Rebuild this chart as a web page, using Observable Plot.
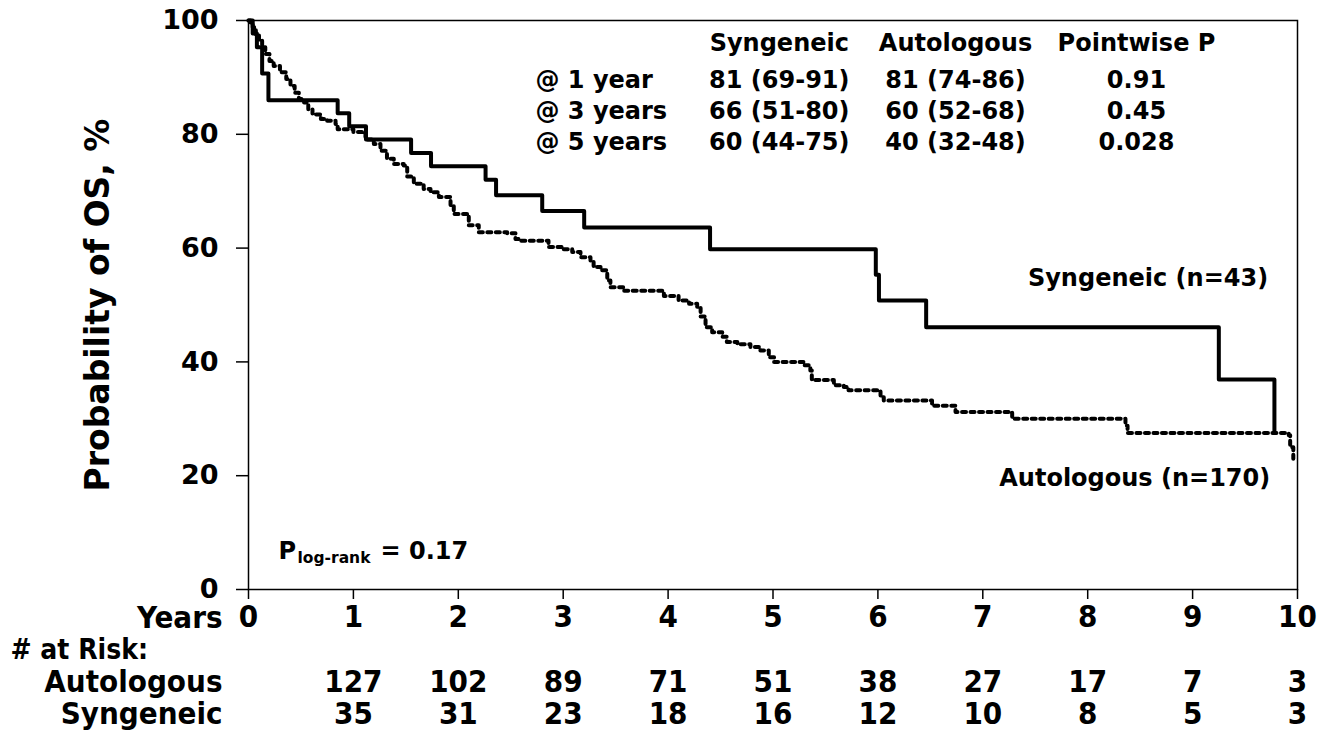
<!DOCTYPE html>
<html><head><meta charset="utf-8">
<script src="https://cdn.jsdelivr.net/npm/d3@7"></script>
<script src="https://cdn.jsdelivr.net/npm/@observablehq/plot@0.6"></script>
<style>
html,body{margin:0;padding:0;background:#fff;}
</style></head><body><div id="chart"></div>
<script>
// Syngeneic KM curve (years, % surviving) – step-after drop points
const synTimes = [0, 0.04, 0.08, 0.13, 0.19, 0.85, 0.96, 1.12, 1.55, 1.74, 2.26, 2.36, 2.80, 3.20, 4.40, 5.98, 6.01, 6.46, 9.25, 9.78];
const synSurv  = [100, 97.7, 95.3, 90.7, 86.0, 83.7, 81.4, 79.1, 76.7, 74.4, 72.0, 69.3, 66.5, 63.6, 59.8, 55.3, 50.8, 46.1, 36.9, 27.6];

// Autologous KM curve
const autoTimes = [0, 0.02, 0.04, 0.07, 0.10, 0.13, 0.16, 0.20, 0.24, 0.30, 0.36, 0.40, 0.44, 0.48, 0.53, 0.57, 0.61, 0.69, 0.75, 0.83, 0.85,
  1.00, 1.115, 1.195, 1.258, 1.32, 1.385, 1.48, 1.513, 1.576, 1.67, 1.735, 1.815, 1.926, 1.957, 2.10, 2.195, 2.466, 2.545, 2.59, 2.86, 2.99,
  3.086, 3.165, 3.26, 3.29, 3.356, 3.42, 3.45, 3.577, 3.96, 4.10, 4.20, 4.277, 4.31, 4.357, 4.42, 4.516, 4.56, 4.66, 4.785, 4.88, 4.96,
  5.01, 5.29, 5.356, 5.37, 5.58, 5.675, 5.72, 6.025, 6.056, 6.516, 6.74, 7.28, 8.36, 8.38, 9.917, 9.93, 9.96];
const autoSurv  = [100, 99.4, 98.8, 97.6, 96.5, 95.3, 94.1, 92.9, 92.0, 90.9, 89.7, 88.5, 87.3, 86.2, 85.6, 84.4, 83.5, 82.7, 82.4, 81.8, 80.9,
  80.4, 79.1, 78.3, 77.1, 75.7, 74.8, 74.5, 72.6, 71.3, 70.4, 69.8, 69.0, 67.5, 66.0, 64.0, 62.8, 62.6, 61.6, 61.3, 60.2, 59.8,
  59.3, 58.4, 57.8, 56.7, 56.1, 54.3, 53.1, 52.5, 51.6, 50.8, 50.2, 49.6, 48.0, 46.1, 45.2, 44.4, 43.5, 43.1, 42.6, 42.0, 40.8,
  40.0, 39.4, 38.5, 36.8, 35.9, 35.6, 35.0, 33.8, 33.2, 32.3, 31.2, 30.0, 28.8, 27.5, 27.1, 25.0, 22.9];

// Axis ticks
const xTicks = [0, 1, 2, 3, 4, 5, 6, 7, 8, 9, 10];
const yTicks = [0, 20, 40, 60, 80, 100];

// Summary table
const tableHeaders = ["Syngeneic", "Autologous", "Pointwise P"];
const tableRowLabels = ["@ 1 year", "@ 3 years", "@ 5 years"];
const synEstimates = ["81 (69-91)", "66 (51-80)", "60 (44-75)"];
const autoEstimates = ["81 (74-86)", "60 (52-68)", "40 (32-48)"];
const pointwiseP = ["0.91", "0.45", "0.028"];

// Numbers at risk
const riskYears = [1, 2, 3, 4, 5, 6, 7, 8, 9, 10];
const riskAuto = [127, 102, 89, 71, 51, 38, 27, 17, 7, 3];
const riskSyn = [35, 31, 23, 18, 16, 12, 10, 8, 5, 3];

const syn = synTimes.map((t, i) => ({t, s: synSurv[i]}));
const auto = autoTimes.map((t, i) => ({t, s: autoSurv[i]}));

const B = "bold";
const F = "DejaVu Sans";
const FC = "DejaVu Sans Condensed";

// table layout (data coordinates)
const headerY = 96.0;
const rowYs = [89.5, 84.0, 78.6];
const colXs = [5.06, 6.74, 8.465];
const tableCells = [];
tableHeaders.forEach((h, j) => tableCells.push({x: colXs[j], y: headerY, text: h}));
[synEstimates, autoEstimates, pointwiseP].forEach((col, j) => col.forEach((v, i) => tableCells.push({x: colXs[j], y: rowYs[i], text: v})));
const rowLabelCells = tableRowLabels.map((l, i) => ({x: 2.736, y: rowYs[i], text: l}));

const riskA = riskYears.map((t, i) => ({t, n: String(riskAuto[i])}));
const riskS = riskYears.map((t, i) => ({t, n: String(riskSyn[i])}));

const M = "middle";
const chart = Plot.plot({
  width: 1332, height: 736,
  marginLeft: 248, marginRight: 35, marginTop: 20, marginBottom: 147,
  x: {domain: [0, 10]},
  y: {domain: [0, 100]},
  style: {fontFamily: F, fontWeight: B, color: "black", background: "white", overflow: "visible"},
  marks: [
    Plot.frame({stroke: "black", strokeWidth: 1.5}),
    Plot.axisY({ticks: yTicks, tickSize: 12, tickPadding: 18, fontSize: 27, fontWeight: B, fontFamily: F, label: null, strokeWidth: 1.5}),
    Plot.axisX({ticks: xTicks, tickSize: 10, tickPadding: 5, fontSize: 31, fontWeight: B, fontFamily: FC, label: null, strokeWidth: 1.5}),
    Plot.text(["Probability of OS, %"], {frameAnchor: "left", dx: -150, rotate: -90, textAnchor: M, lineAnchor: M, fontSize: 33, fontWeight: B, fontFamily: F}),
    Plot.line(auto, {x: "t", y: "s", curve: "step-after", stroke: "black", strokeWidth: 4, strokeDasharray: "4,4.5"}),
    Plot.line(syn, {x: "t", y: "s", curve: "step-after", stroke: "black", strokeWidth: 4}),
    Plot.text(tableCells, {x: "x", y: "y", text: "text", fontSize: 24, fontWeight: B, fontFamily: F}),
    Plot.text(rowLabelCells, {x: "x", y: "y", text: "text", textAnchor: "start", fontSize: 24, fontWeight: B, fontFamily: F}),
    Plot.text(["Syngeneic (n=43)"], {x: 9.72, y: 54.7, textAnchor: "end", fontSize: 24, fontWeight: B, fontFamily: F}),
    Plot.text(["Autologous (n=170)"], {x: 9.74, y: 19.5, textAnchor: "end", fontSize: 24, fontWeight: B, fontFamily: F}),
    Plot.text(["P"], {frameAnchor: "bottom-left", dx: 30, dy: -38, textAnchor: "start", lineAnchor: M, fontSize: 24, fontWeight: B, fontFamily: F}),
    Plot.text(["log-rank"], {frameAnchor: "bottom-left", dx: 49, dy: -31, textAnchor: "start", lineAnchor: M, fontSize: 15.5, fontWeight: B, fontFamily: F}),
    Plot.text(["= 0.17"], {frameAnchor: "bottom-left", dx: 132, dy: -38, textAnchor: "start", lineAnchor: M, fontSize: 24, fontWeight: B, fontFamily: F}),
    Plot.text(["Years"], {frameAnchor: "bottom-left", dx: -26, dy: 29, textAnchor: "end", lineAnchor: M, fontSize: 31, fontWeight: B, fontFamily: FC}),
    Plot.text(["# at Risk:"], {frameAnchor: "bottom-left", dx: -238, dy: 61, textAnchor: "start", lineAnchor: M, fontSize: 28, fontWeight: B, fontFamily: FC}),
    Plot.text(["Autologous"], {frameAnchor: "bottom-left", dx: -26, dy: 93, textAnchor: "end", lineAnchor: M, fontSize: 31, fontWeight: B, fontFamily: FC}),
    Plot.text(["Syngeneic"], {frameAnchor: "bottom-left", dx: -26, dy: 125, textAnchor: "end", lineAnchor: M, fontSize: 31, fontWeight: B, fontFamily: FC}),
    Plot.text(riskA, {x: "t", text: "n", frameAnchor: "bottom", dy: 93, lineAnchor: M, fontSize: 31, fontWeight: B, fontFamily: FC}),
    Plot.text(riskS, {x: "t", text: "n", frameAnchor: "bottom", dy: 125, lineAnchor: M, fontSize: 31, fontWeight: B, fontFamily: FC})
  ]
});
document.getElementById("chart").appendChild(chart);
</script>
</body></html>
